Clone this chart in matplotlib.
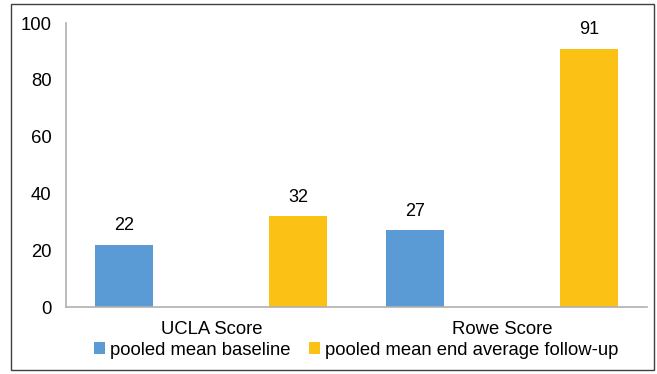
import numpy as np
import matplotlib.pyplot as plt
from matplotlib.patches import Rectangle

plt.rcParams['font.family'] = ['Liberation Sans', 'DejaVu Sans']

categories = ['UCLA Score', 'Rowe Score']
baseline = [22, 27]
follow_up = [32, 91]
series_names = ['pooled mean baseline', 'pooled mean end average follow-up']
colors = ['#5B9BD5', '#FBC115']

fig = plt.figure(figsize=(6.57, 3.74), dpi=100)
ax = fig.add_axes([0.1005, 0.179, 0.8843, 0.7595])

x = np.arange(len(categories))
w = 0.2
b1 = ax.bar(x - 0.3, baseline, w, color=colors[0], label=series_names[0])
b2 = ax.bar(x + 0.3, follow_up, w, color=colors[1], label=series_names[1])

for bars, vals in [(b1, baseline), (b2, follow_up)]:
    for rect, v in zip(bars, vals):
        ax.annotate(str(v), (rect.get_x() + rect.get_width() / 2, v),
                    xytext=(0, 7.5), textcoords='offset points',
                    ha='center', va='bottom', fontsize=13)

ax.set_xlim(-0.5, 1.5)
ax.set_ylim(0, 100)
ax.set_yticks(range(0, 101, 20))
ax.set_xticks(x)
ax.set_xticklabels(categories)
ax.tick_params(axis='both', length=0, labelsize=13.3)
ax.tick_params(axis='y', pad=10.5)
ax.tick_params(axis='x', pad=10)

for s in ['top', 'right']:
    ax.spines[s].set_visible(False)
for s in ['left', 'bottom']:
    ax.spines[s].set_color('#B0B0B0')
    ax.spines[s].set_linewidth(1.2)

fig.legend(loc='center', bbox_to_anchor=(0.542, 0.064), ncol=2, frameon=False,
           fontsize=13.3, handlelength=0.6, handleheight=0.6,
           handletextpad=0.25, columnspacing=1.0, borderaxespad=0)

# outer chart border
fig.patches.append(Rectangle((0.0167, 0.0107), 0.9787, 0.9786,
                             transform=fig.transFigure, fill=False,
                             edgecolor='#404040', linewidth=1.0))

fig.savefig('out.png', dpi=100)
